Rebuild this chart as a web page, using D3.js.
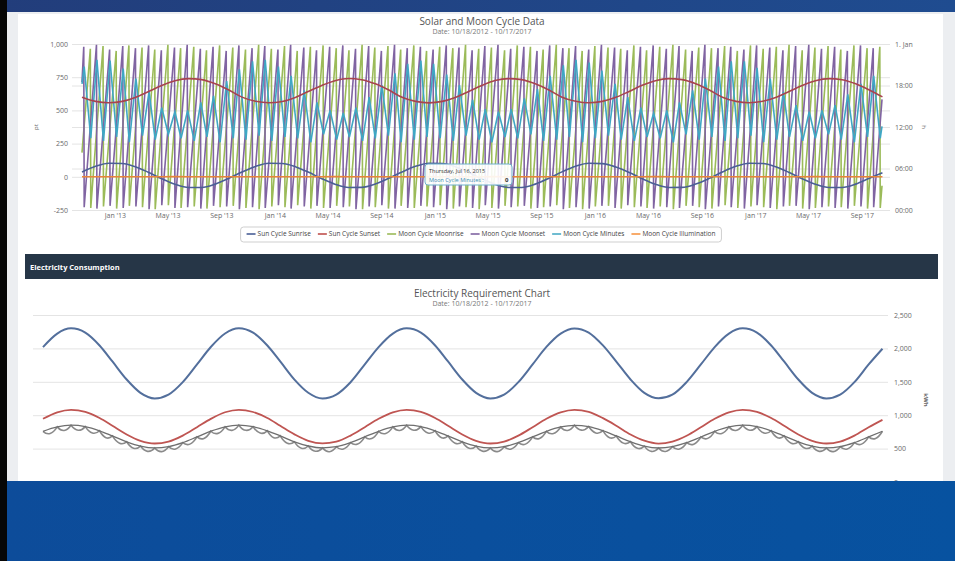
<!DOCTYPE html>
<html><head><meta charset="utf-8">
<script src="https://cdn.jsdelivr.net/npm/d3@7"></script>
<style>
html,body{margin:0;padding:0;background:#fff;overflow:hidden;}
svg{display:block;font-family:"Open Sans",sans-serif;}
</style></head><body>
<svg id="c" width="955" height="561"></svg>
<script>
// ---------------- DATA ----------------
const startDate = "2012-10-18", endDate = "2017-10-17";
const xTickDates = ["2013-01-01","2013-05-01","2013-09-01","2014-01-01","2014-05-01","2014-09-01","2015-01-01","2015-05-01","2015-09-01","2016-01-01","2016-05-01","2016-09-01","2017-01-01","2017-05-01","2017-09-01"];
const xTickLabels = ["Jan '13","May '13","Sep '13","Jan '14","May '14","Sep '14","Jan '15","May '15","Sep '15","Jan '16","May '16","Sep '16","Jan '17","May '17","Sep '17"];
const leftTicks = [-250,0,250,500,750,1000];
const rightTicks = [0,6,12,18,24];
const rightTickLabels = ["00:00","06:00","12:00","18:00","1. Jan"];
const seriesNames = ["Sun Cycle Sunrise","Sun Cycle Sunset","Moon Cycle Moonrise","Moon Cycle Moonset","Moon Cycle Minutes","Moon Cycle Illumination"];

// monthly (18th of each month, Oct 2012 .. Sep 2017, then end date) – hours
const sunriseHours = [
5.50,6.31,6.75,6.72,6.22,5.47,4.52,3.73,3.26,3.26,3.74,4.58,
5.49,6.30,6.75,6.73,6.23,5.48,4.53,3.73,3.25,3.27,3.75,4.59,
5.50,6.31,6.76,6.72,6.22,5.46,4.51,3.72,3.26,3.26,3.74,4.58,
5.51,6.32,6.75,6.71,6.21,5.47,4.52,3.73,3.26,3.27,3.75,4.57,
5.50,6.31,6.75,6.72,6.22,5.47,4.52,3.73,3.26,3.26,3.74,4.58,
5.40];
const sunsetHours = [
16.30,15.70,15.50,15.70,16.30,17.10,18.00,18.70,19.00,18.85,18.25,17.35,
16.32,15.71,15.50,15.69,16.31,17.12,18.01,18.70,19.01,18.84,18.24,17.34,
16.30,15.70,15.49,15.70,16.30,17.10,18.00,18.71,19.00,18.85,18.25,17.36,
16.31,15.72,15.50,15.70,16.29,17.11,18.02,18.70,18.99,18.85,18.26,17.35,
16.30,15.70,15.50,15.71,16.30,17.10,18.00,18.70,19.00,18.84,18.25,17.35,
16.35];
const illumination = [
0.1,0.6,0.3,0.9,0.2,0.7,0.4,1.0,0.1,0.6,0.3,0.8,
0.2,0.7,0.4,0.9,0.1,0.6,0.3,1.0,0.2,0.7,0.5,0.8,
0.1,0.6,0.3,0.9,0.2,0.7,0.4,1.0,0.1,0.6,0.3,0.8,
0.2,0.7,0.4,0.9,0.1,0.6,0.3,1.0,0.2,0.7,0.5,0.8,
0.1,0.6,0.3,0.9,0.2,0.7,0.4,1.0,0.1,0.6,0.3,0.8,
0.2];

// lunar saw-tooth: day offsets (from start date) where the time wraps past midnight
const moonsetWrapDays = [5,34,64,94,123,153,182,212,241,271,300,330,359,389,418,448,477,507,536,566,596,625,655,684,714,743,773,802,832,861,891,920,950,979,1009,1039,1068,1098,1127,1157,1186,1216,1245,1275,1304,1334,1363,1393,1422,1452,1481,1511,1540,1570,1600,1629,1659,1688,1718,1747,1777,1806];
const moonriseWrapDays = [20,49,79,108,138,167,197,226,256,285,315,345,374,404,433,463,492,522,551,581,610,640,669,699,728,758,787,817,847,876,906,935,965,994,1024,1053,1083,1112,1142,1171,1201,1230,1260,1289,1319,1349,1378,1408,1437,1467,1496,1526,1555,1585,1614,1644,1673,1703,1732,1762,1792,1821];
const moonsetPeakHours = [23.6,23.9,23.2,23.7,23.4,23.8,23.1,23.5,23.9,23.3,23.6,23.0,23.8,23.4,23.7,23.2,23.9,23.5,23.1,23.6,23.8,23.3,23.7,23.0,23.9,23.4,23.6,23.2,23.8,23.5,23.1,23.7,23.9,23.3,23.6,23.0,23.8,23.4,23.7,23.2,23.9,23.5,23.1,23.6,23.8,23.3,23.7,23.0,23.9,23.4,23.6,23.2,23.8,23.5,23.1,23.7,23.9,23.3,23.6,23.0,23.8,23.4];
const moonrisePeakHours = [23.3,23.7,23.0,23.8,23.5,23.2,23.9,23.4,23.6,23.1,23.8,23.5,23.2,23.9,23.3,23.7,23.0,23.6,23.8,23.4,23.1,23.9,23.5,23.7,23.2,23.8,23.0,23.6,23.4,23.9,23.3,23.5,23.1,23.8,23.6,23.2,23.9,23.4,23.0,23.7,23.5,23.3,23.8,23.1,23.6,23.9,23.2,23.5,23.4,23.7,23.0,23.8,23.3,23.6,23.9,23.1,23.5,23.7,23.2,23.8,23.4,23.6];
const moonsetLowHours = [0.4,0.2,0.6,0.3,0.5,0.1,0.7,0.3,0.4,0.2,0.6,0.5,0.1,0.4,0.3,0.7,0.2,0.5,0.6,0.3,0.4,0.1,0.5,0.7,0.2,0.3,0.6,0.4,0.1,0.5,0.3,0.7,0.2,0.4,0.6,0.3,0.5,0.1,0.4,0.2,0.6,0.3,0.7,0.5,0.2,0.4,0.3,0.6,0.1,0.5,0.4,0.2,0.7,0.3,0.5,0.6,0.1,0.4,0.3,0.2,0.5,0.4];
const moonriseLowHours = [0.3,0.5,0.2,0.6,0.4,0.1,0.7,0.3,0.5,0.2,0.4,0.6,0.3,0.1,0.5,0.4,0.7,0.2,0.3,0.6,0.5,0.1,0.4,0.2,0.6,0.3,0.5,0.7,0.2,0.4,0.1,0.3,0.6,0.5,0.2,0.4,0.7,0.3,0.1,0.5,0.6,0.2,0.4,0.3,0.5,0.1,0.6,0.4,0.2,0.7,0.3,0.5,0.4,0.1,0.6,0.2,0.3,0.5,0.4,0.6,0.2,0.3];
const moonsetStartHour = 18.5, moonsetEndHour = 16.0;
const moonriseStartHour = 8.3, moonriseEndHour = 3.5;

// moon cycle minutes: peaks (at moonset wrap days) and troughs (at moonrise wrap days)
const minutesPeaks = [830,880,875,815,740,640,520,490,500,560,610,720,810,870,880,830,760,650,560,500,480,520,600,690,780,850,875,850,770,690,580,510,490,510,590,660,760,840,880,860,800,700,600,520,480,500,560,650,740,830,870,870,820,740,640,540,490,500,540,620,700,760];
const minutesTroughs = [290,270,300,260,310,280,320,290,270,300,260,290,280,310,270,300,290,260,320,280,300,270,290,310,260,280,300,290,270,310,280,260,300,290,320,270,280,300,260,290,310,280,270,300,290,260,320,280,300,270,290,310,260,280,300,270,290,320,280,260,300,290];
const minutesStart = 700, minutesEnd = 380;

// Electricity (monthly, 18th of each month, then end date) – kWh
const elecBlue = [
2020,2222,2300,2236,2044,1804,1534,1335,1251,1308,1495,1760,
2021,2223,2301,2235,2043,1805,1533,1336,1250,1309,1494,1761,
2020,2222,2300,2236,2044,1804,1534,1335,1251,1308,1495,1760,
2022,2221,2299,2237,2045,1803,1535,1334,1252,1307,1496,1759,
2020,2222,2300,2236,2044,1804,1534,1335,1251,1308,1495,1760,
1995];
const elecRed = [
946,1043,1080,1049,957,842,712,617,576,604,694,820,
945,1044,1081,1048,958,841,713,616,577,603,695,821,
946,1043,1080,1049,957,842,712,617,576,604,694,820,
947,1042,1079,1050,956,843,711,618,575,605,693,819,
946,1043,1080,1049,957,842,712,617,576,604,694,820,
930];
const elecGreyTop = [
759,825,850,829,767,690,602,538,510,529,589,675,
760,826,851,828,766,691,601,539,511,528,590,676,
759,825,850,829,767,690,602,538,510,529,589,675,
758,824,849,830,768,689,603,537,509,530,588,674,
759,825,850,829,767,690,602,538,510,529,589,675,
760];
const elecGreyDip = [
727,772,775,733,663,581,505,459,455,494,567,652,
728,773,774,732,664,580,506,460,454,495,568,651,
727,772,775,733,663,581,505,459,455,494,567,652,
726,771,776,734,662,582,504,458,456,493,566,653,
727,772,775,733,663,581,505,459,455,494,567,652];
const elecTicks = [0,500,1000,1500,2000,2500];

// ---------------- RENDER ----------------
const W = 955, H = 561;
const svg = d3.select("#c");
const parse = d3.timeParse("%Y-%m-%d");
const t0 = parse(startDate), t1 = parse(endDate);
const monthDates = d3.range(61).map(i => d3.timeMonth.offset(t0, i)).concat([t1]);
const dayDate = d => d3.timeDay.offset(t0, d);
const fmtNum = d => d3.format(",")(d).replace("\u2212", "-");

const defs = svg.append("defs");
const tg = defs.append("linearGradient").attr("id","topg").attr("x1","0").attr("x2","1");
tg.append("stop").attr("offset","0").attr("stop-color","#223d7b");
tg.append("stop").attr("offset","1").attr("stop-color","#1f4c90");
const bg = defs.append("linearGradient").attr("id","botg").attr("x1","0").attr("x2","1");
bg.append("stop").attr("offset","0").attr("stop-color","#0d4c9a");
bg.append("stop").attr("offset","1").attr("stop-color","#0752a0");

// page background
svg.append("rect").attr("width",W).attr("height",H).attr("fill","#eceef1");
svg.append("rect").attr("x",18).attr("y",14).attr("width",925).attr("height",470).attr("fill","#ffffff");
svg.append("rect").attr("x",0).attr("y",0).attr("width",W).attr("height",12).attr("fill","url(#topg)");
svg.append("rect").attr("x",0).attr("y",0).attr("width",7).attr("height",H).attr("fill","#060606");

// ===== Chart 1 =====
const c1 = svg.append("g");
const x1 = d3.scaleTime().domain([t0,t1]).range([82,882]);
const yL = d3.scaleLinear().domain([-250,1000]).range([210,44]);
const yR = d3.scaleLinear().domain([0,24]).range([210,44]);

c1.append("text").attr("x",482).attr("y",25).attr("text-anchor","middle")
  .attr("font-size","10px").attr("fill","#555").text("Solar and Moon Cycle Data");
c1.append("text").attr("x",482).attr("y",34).attr("text-anchor","middle")
  .attr("font-size","7px").attr("fill","#777").text("Date: 10/18/2012 - 10/17/2017");

// grids
const gridStyle = g => { g.select(".domain").remove(); g.selectAll("line").attr("stroke","#e4e4e4").attr("stroke-width",1); g.selectAll("text").remove(); };
c1.append("g").attr("transform","translate(72,0)")
  .call(d3.axisLeft(yL).tickValues(leftTicks).tickSize(-(890-72))).call(gridStyle);
c1.append("g").attr("transform","translate(72,0)")
  .call(d3.axisLeft(yR).tickValues(rightTicks.slice(1,4)).tickSize(-(890-72))).call(gridStyle);

const labStyle = g => { g.select(".domain").remove(); g.selectAll("line").remove(); g.attr("font-family","Open Sans"); g.selectAll("text").attr("font-size","7px").attr("fill","#6a6a6a"); };
c1.append("g").attr("transform","translate(68,0)")
  .call(d3.axisLeft(yL).tickValues(leftTicks).tickSize(0).tickPadding(0).tickFormat(fmtNum)).call(labStyle);
c1.append("g").attr("transform","translate(895,0)")
  .call(d3.axisRight(yR).tickValues(rightTicks).tickSize(0).tickPadding(0).tickFormat((d,i)=>rightTickLabels[i])).call(labStyle);
c1.append("g").attr("transform","translate(0,213)")
  .call(d3.axisBottom(x1).tickValues(xTickDates.map(parse)).tickSize(0).tickPadding(0).tickFormat((d,i)=>xTickLabels[i])).call(labStyle);

c1.append("text").attr("transform","translate(38,127) rotate(-90)").attr("text-anchor","middle")
  .attr("font-size","6px").attr("fill","#666").text("pt");
c1.append("text").attr("transform","translate(922,127) rotate(90)").attr("text-anchor","middle")
  .attr("font-size","6px").attr("fill","#666").text("h");

const plot1 = c1.append("g");
function sawPoints(startH, wraps, peaks, lows, endH){
  const pts = [{d:0,h:startH}];
  wraps.forEach((w,k)=>{ pts.push({d:w-1,h:peaks[k]}); pts.push({d:w,h:lows[k]}); });
  pts.push({d:1825,h:endH});
  return pts;
}
const sawLine = d3.line().x(p=>x1(dayDate(p.d))).y(p=>yR(p.h));
plot1.append("path").attr("d", sawLine(sawPoints(moonriseStartHour, moonriseWrapDays, moonrisePeakHours, moonriseLowHours, moonriseEndHour)))
  .attr("fill","none").attr("stroke","#9bbb59").attr("stroke-width",1.6);
plot1.append("path").attr("d", sawLine(sawPoints(moonsetStartHour, moonsetWrapDays, moonsetPeakHours, moonsetLowHours, moonsetEndHour)))
  .attr("fill","none").attr("stroke","#8064a2").attr("stroke-width",1.6);

// minutes
const minPts = [{d:0,v:minutesStart}];
moonsetWrapDays.forEach((w,k)=>{ minPts.push({d:w,v:minutesPeaks[k]}); minPts.push({d:moonriseWrapDays[k],v:minutesTroughs[k]}); });
minPts.push({d:1825,v:minutesEnd});
plot1.append("path").attr("d", d3.line().x(p=>x1(dayDate(p.d))).y(p=>yL(p.v))(minPts))
  .attr("fill","none").attr("stroke","#3fa7c4").attr("stroke-width",1.6);

// sun lines
const sunLine = d3.line().x((d,i)=>x1(monthDates[i])).y(d=>yR(d)).curve(d3.curveMonotoneX);
plot1.append("path").attr("d", sunLine(sunriseHours)).attr("fill","none").attr("stroke","#4a5f96").attr("stroke-width",1.6);
plot1.append("path").attr("d", sunLine(sunsetHours)).attr("fill","none").attr("stroke","#a8444f").attr("stroke-width",1.6);
plot1.append("path").attr("d", d3.line().x((d,i)=>x1(monthDates[i])).y(d=>yL(d))(illumination))
  .attr("fill","none").attr("stroke","#e9843a").attr("stroke-width",1.6);

// tooltip
const tt = c1.append("g");
tt.append("rect").attr("x",425).attr("y",164).attr("width",87).attr("height",21).attr("rx",3)
  .attr("fill","#ffffff").attr("fill-opacity",0.9).attr("stroke","#6fb0cc").attr("stroke-width",1);
tt.append("text").attr("x",429).attr("y",173).attr("font-size","5.5px").attr("fill","#333").text("Thursday, Jul 16, 2015");
tt.append("text").attr("x",429).attr("y",181.5).attr("font-size","5.5px").attr("fill","#3d8fb3").text("Moon Cycle Minutes :");
tt.append("text").attr("x",505).attr("y",182).attr("font-size","6px").attr("font-weight","bold").attr("fill","#333").text("0");

// legend
const lbox = c1.append("g");
const lg = c1.append("g");
const legColors = ["#4a5f96","#c0504d","#9bbb59","#8064a2","#4bacc6","#f79646"];
let lx = 0;
seriesNames.forEach((n,i)=>{
  const g = lg.append("g").attr("transform",`translate(${lx},0)`);
  g.append("line").attr("x1",0).attr("x2",9).attr("y1",0).attr("y2",0).attr("stroke",legColors[i]).attr("stroke-width",1.6);
  const t = g.append("text").attr("x",11).attr("y",2.3).attr("font-size","6.5px").attr("fill","#444").text(n);
  lx += 11 + t.node().getComputedTextLength() + 7;
});
const lw = lx - 7;
lg.attr("transform",`translate(${481 - lw/2},234)`);
lbox.append("rect").attr("x",481 - lw/2 - 6).attr("y",227).attr("width",lw+12).attr("height",15).attr("rx",3)
  .attr("fill","#fff").attr("stroke","#cfcfcf").attr("stroke-width",1);

// ===== Header bar =====
svg.append("rect").attr("x",25).attr("y",254).attr("width",913).attr("height",25).attr("fill","#263647");
svg.append("text").attr("x",30).attr("y",269.5).attr("font-size","7.5px").attr("font-weight","bold").attr("fill","#fff").text("Electricity Consumption");

// ===== Chart 2 =====
const c2 = svg.append("g");
const x2 = d3.scaleTime().domain([t0,t1]).range([43,882]);
const y2 = d3.scaleLinear().domain([0,2500]).range([482,315]);
c2.append("text").attr("x",482).attr("y",297).attr("text-anchor","middle")
  .attr("font-size","10px").attr("fill","#555").text("Electricity Requirement Chart");
c2.append("text").attr("x",482).attr("y",306).attr("text-anchor","middle")
  .attr("font-size","7px").attr("fill","#777").text("Date: 10/18/2012 - 10/17/2017");
c2.append("g").attr("transform","translate(33,0)")
  .call(d3.axisLeft(y2).tickValues(elecTicks).tickSize(-(888-33))).call(gridStyle);
c2.append("g").attr("transform","translate(894,0)")
  .call(d3.axisRight(y2).tickValues(elecTicks).tickSize(0).tickPadding(0).tickFormat(fmtNum)).call(labStyle);
c2.append("text").attr("transform","translate(924,400) rotate(90)").attr("text-anchor","middle")
  .attr("font-size","6px").attr("font-weight","bold").attr("fill","#666").text("kWh");

const eLine = d3.line().x((d,i)=>x2(monthDates[i])).y(d=>y2(d)).curve(d3.curveMonotoneX);
c2.append("path").attr("d", eLine(elecBlue)).attr("fill","none").attr("stroke","#536f9c").attr("stroke-width",2);
c2.append("path").attr("d", eLine(elecRed)).attr("fill","none").attr("stroke","#bf5552").attr("stroke-width",1.8);
// scalloped grey series
const sp = d3.path();
elecGreyTop.forEach((v,i)=>{
  const xx = x2(monthDates[i]), yy = y2(v);
  if (i===0) sp.moveTo(xx,yy);
  else {
    const xp = x2(monthDates[i-1]);
    const yd = y2(elecGreyDip[i-1]);
    sp.quadraticCurveTo((xp+xx)/2, yd + (yd - (y2(elecGreyTop[i-1])+yy)/2), xx, yy);
  }
});
c2.append("path").attr("d", sp.toString()).attr("fill","none").attr("stroke","#8a8a8a").attr("stroke-width",1.6);
c2.append("path").attr("d", eLine(elecGreyTop)).attr("fill","none").attr("stroke","#6f6f6f").attr("stroke-width",1.3);

// bottom band overlay
svg.append("rect").attr("x",7).attr("y",481).attr("width",W-7).attr("height",80).attr("fill","url(#botg)");
</script>
</body></html>
